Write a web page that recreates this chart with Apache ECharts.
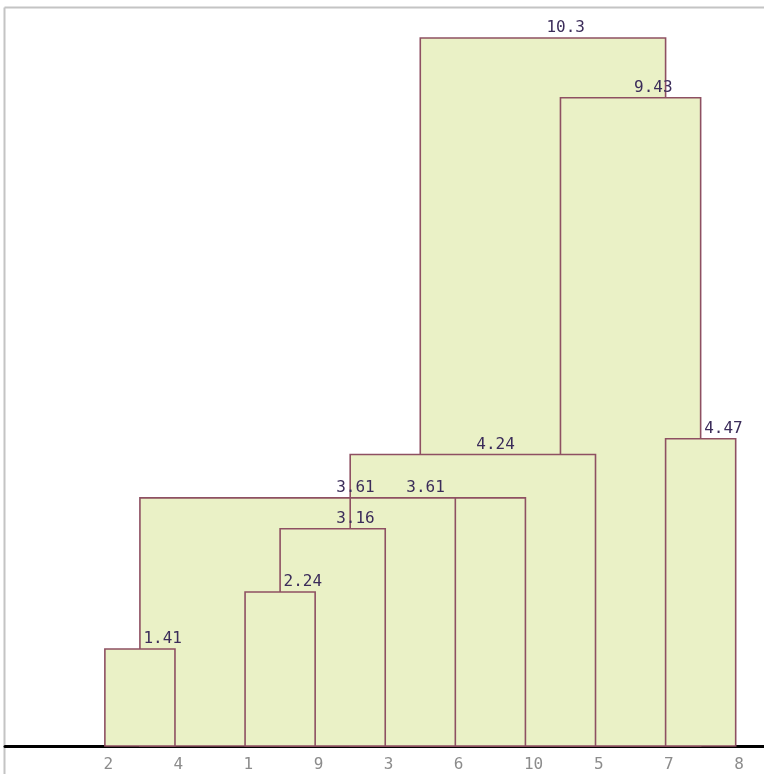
<!DOCTYPE html>
<html>
<head>
<meta charset="utf-8">
<script src="https://cdn.jsdelivr.net/npm/echarts@6/dist/echarts.min.js"></script>
<style>
  html, body { margin: 0; padding: 0; background: #fff; }
  #chart { width: 764px; height: 774px; }
</style>
</head>
<body>
<div id="chart"></div>
<script>
// Leaf order along the baseline
const leafLabels = ['2', '4', '1', '9', '3', '6', '10', '5', '7', '8'];

// Merge boxes, painted tallest first so lower boxes cover the feet of taller ones.
// Positions are in leaf slots (0 = first leaf).
const mergeHeights = [10.3, 9.43, 4.47, 4.24, 3.61, 3.61, 3.16, 2.24, 1.41];
const mergeLeft    = [4.5, 6.5, 8, 3.5, 0.5, 3.5, 2.5, 2, 0];
const mergeRight   = [8, 8.5, 9, 7, 6, 5, 4, 3, 1];

const FONT = '16px "DejaVu Sans Mono", monospace';

const boxData = mergeHeights.map((h, i) => [mergeLeft[i], mergeRight[i], h]);
const leafData = leafLabels.map((name, i) => [i, name]);

const chart = echarts.init(document.getElementById('chart'), null, { renderer: 'canvas' });

chart.setOption({
  animation: false,
  backgroundColor: '#ffffff',
  grid: { left: 5, top: 7, right: 0, bottom: 28, containLabel: false },
  xAxis: {
    type: 'value',
    min: -1.425,
    max: 9.404,
    splitLine: { show: false },
    axisTick: { show: false },
    axisLabel: { show: false },
    axisLine: { show: true, onZero: true, lineStyle: { color: '#000000', width: 3 } }
  },
  yAxis: {
    type: 'value',
    min: 0,
    max: 10.75,
    show: false,
    splitLine: { show: false }
  },
  graphic: [
    { type: 'line', silent: true, z: 0, shape: { x1: 4.5, y1: 7.5, x2: 764, y2: 7.5 }, style: { stroke: '#c4c4c4', lineWidth: 2 } },
    { type: 'line', silent: true, z: 0, shape: { x1: 4.5, y1: 7.5, x2: 4.5, y2: 774 }, style: { stroke: '#c4c4c4', lineWidth: 2 } }
  ],
  series: [
    {
      type: 'custom',
      name: 'merges',
      coordinateSystem: 'cartesian2d',
      data: boxData,
      encode: { x: [0, 1], y: 2 },
      clip: false,
      z: 2,
      renderItem: function (params, api) {
        const l = api.value(0), r = api.value(1), h = api.value(2);
        const p0 = api.coord([l, 0]);
        const p1 = api.coord([r, h]);
        const mid = (p0[0] + p1[0]) / 2;
        return {
          type: 'group',
          children: [
            {
              type: 'rect',
              shape: { x: p0[0], y: p1[1], width: p1[0] - p0[0], height: p0[1] - p1[1] },
              style: { fill: '#eaf1c6', stroke: '#8e5062', lineWidth: 1.6 }
            },
            {
              type: 'text',
              style: {
                text: String(h),
                x: mid + 3.5,
                y: p1[1] - 2,
                fill: '#3b2c5a',
                font: FONT,
                align: 'left',
                verticalAlign: 'bottom'
              }
            }
          ]
        };
      }
    },
    {
      type: 'custom',
      name: 'leaves',
      coordinateSystem: 'cartesian2d',
      data: leafData,
      encode: { x: 0 },
      clip: false,
      z: 3,
      renderItem: function (params, api) {
        const p = api.coord([api.value(0), 0]);
        return {
          type: 'text',
          style: {
            text: leafLabels[params.dataIndex],
            x: p[0] - 1.5,
            y: p[1] + 27,
            fill: '#8c8c8c',
            font: FONT,
            align: 'left',
            verticalAlign: 'bottom'
          }
        };
      }
    }
  ]
});
</script>
</body>
</html>
